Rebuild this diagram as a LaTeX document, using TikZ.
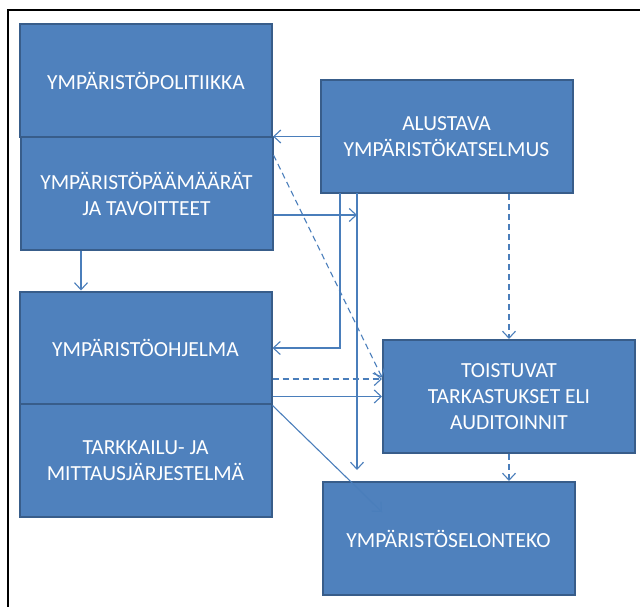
\documentclass[tikz,border=0pt]{standalone}
\usepackage{fontspec}
\setmainfont{Carlito}
\usetikzlibrary{arrows.meta}
\definecolor{boxfill}{HTML}{4F81BD}
\definecolor{boxline}{HTML}{385D8A}
\definecolor{linkcol}{HTML}{4A7EBB}
\tikzset{
	lohko/.style={draw=boxline, line width=2pt, fill=boxfill, text=white, minimum width=252pt, minimum height=113pt, align=center, inner sep=0pt, font=\fontsize{21.5}{26}\selectfont},
	nuoli/.style={draw=linkcol, line width=1.1pt, -{Straight Barb[length=7pt,width=13pt]}},
	katko/.style={nuoli, dash pattern=on 6pt off 4pt}
}
\begin{document}
	\begin{tikzpicture}[x=1pt, y=-1pt]
		\useasboundingbox (0, 0) rectangle (640, 607);
		\draw[line width=2pt] (7.5, 607) -- (7.5, 10) -- (640, 10);
		\node[lohko] (pol) at (146, 80.5) {YMPÄRISTÖPOLITIIKKA};
		\node[lohko] (paam) at (146.5, 193.5) {YMPÄRISTÖPÄÄMÄÄRÄT\\JA TAVOITTEET};
		\node[lohko] (alu) at (446.5, 136.5) {ALUSTAVA\\YMPÄRISTÖKATSELMUS};
		\node[lohko] (ohj) at (145.5, 348) {YMPÄRISTÖOHJELMA};
		\node[lohko] (tark) at (145.5, 460.5) {TARKKAILU- JA\\MITTAUSJÄRJESTELMÄ};
		\node[lohko] (toist) at (509, 396.5) {TOISTUVAT\\TARKASTUKSET ELI\\AUDITOINNIT};
		\node[lohko] (selon) at (448.5, 538.5) {YMPÄRISTÖSELONTEKO};
		\coordinate (pysty1) at (340, 193);
		\coordinate (pysty2) at (357, 193);
		\coordinate (alas) at (357, 470);
		\coordinate (vino) at (382, 512);
		\draw[nuoli] (alu.west) -- (alu.west -| pol.east);
		\draw[nuoli] (paam.south -| 81, 0) -- (ohj.north -| 81, 0);
		\draw[nuoli] ([yshift=-21.5pt]paam.east) -- ([yshift=-21.5pt]paam.east -| pysty2);
		\draw[nuoli] (pysty1) |- (ohj.east);
		\draw[nuoli] (pysty2) -- (alas);
		\draw[katko] ([yshift=-19pt]paam.north east) -- ([yshift=19pt]toist.west);
		\draw[katko] ([yshift=-31pt]ohj.east) -- ([yshift=-31pt]ohj.east -| toist.west);
		\draw[nuoli] (ohj.east |- toist.west) -- (toist.west);
		\draw[nuoli] (ohj.south east) -- (vino);
		\draw[katko] (alu.south -| toist.north) -- (toist.north);
		\draw[katko] (toist.south) -- (toist.south |- selon.north);
	\end{tikzpicture}
\end{document}
